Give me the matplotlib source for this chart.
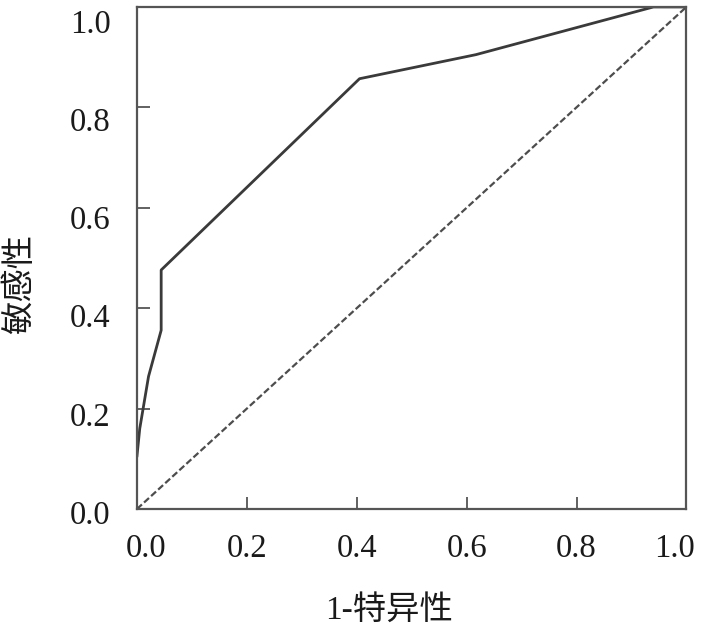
import matplotlib.pyplot as plt
from matplotlib.transforms import ScaledTranslation

plt.rcParams['font.family'] = ['Liberation Serif', 'Noto Sans CJK SC']

# Datos de la curva ROC
fpr = [0.0, 0.005, 0.021, 0.044, 0.044, 0.405, 0.617, 0.94, 1.0]
tpr = [0.106, 0.16, 0.264, 0.356, 0.476, 0.857, 0.905, 1.0, 1.0]
ref_x = [0.0, 1.0]
ref_y = [0.0, 1.0]
ticks = [0.0, 0.2, 0.4, 0.6, 0.8, 1.0]

fig = plt.figure(figsize=(7.08, 6.31), dpi=100)
ax = fig.add_axes([0.1935, 0.1934, 0.776, 0.7956])

ax.plot(fpr, tpr, color='#3a3a3a', linewidth=2.0)
ax.plot(ref_x, ref_y, color='#4d4d4d', linewidth=1.6, linestyle=(0, (3, 1.3)))

ax.set_xlim(0, 1)
ax.set_ylim(0, 1)
ax.set_xticks(ticks)
ax.set_yticks(ticks)
ax.set_xticklabels([f'{t:.1f}' for t in ticks])
ax.set_yticklabels([f'{t:.1f}' for t in ticks])
ax.tick_params(direction='in', length=9, width=1.3, color='#555555',
               labelsize=23.5, labelcolor='#1a1a1a')
ax.tick_params(axis='y', pad=19)
ax.tick_params(axis='x', pad=18)
for s in ax.spines.values():
    s.set_color('#555555')
    s.set_linewidth(1.6)

# pequeños desplazamientos de las etiquetas como en la figura original
for t, lab in zip(ticks, ax.get_yticklabels()):
    dy = -(3 + 11 * t) / 100
    lab.set_transform(lab.get_transform() +
                      ScaledTranslation(0, dy, fig.dpi_scale_trans))
xl = ax.get_xticklabels()
xl[0].set_transform(xl[0].get_transform() +
                    ScaledTranslation(0.09, 0, fig.dpi_scale_trans))
xl[-1].set_transform(xl[-1].get_transform() +
                     ScaledTranslation(-0.12, 0, fig.dpi_scale_trans))

ax.set_xlabel('1-特异性', fontsize=24, va='center', color='#1a1a1a')
ax.set_ylabel('敏感性', fontsize=24, va='center', color='#1a1a1a')
ax.xaxis.set_label_coords(0.459, -0.201)
ax.yaxis.set_label_coords(-0.213, 0.448)

fig.savefig('out.png', dpi=100)
